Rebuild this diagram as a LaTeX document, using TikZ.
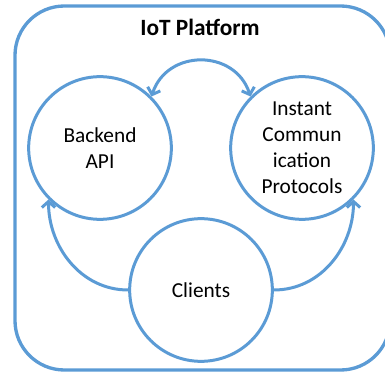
\documentclass[tikz,border=0pt]{standalone}
\usepackage{fontspec}
\setmainfont{Carlito}
\usepackage{tikz}
\usetikzlibrary{arrows.meta,calc,positioning}
\definecolor{iotblue}{HTML}{5B9BD5}
\tikzset{%
	bubble/.style   = {draw=iotblue, circle, line width=2.25pt, minimum size=107pt, inner sep=0pt, align=center, font=\fontsize{16}{19.5}\selectfont},
	frame/.style    = {draw=iotblue, line width=2.5pt, rounded corners=37pt},
	title/.style    = {font=\fontsize{17.5}{20}\selectfont\bfseries},
	link/.style     = {draw=iotblue, line width=2.25pt, -{Straight Barb[length=4.5pt,width=10pt]}},
	waypoint/.style = {coordinate},
}

\begin{document}
\begin{tikzpicture}[x=0.75pt,y=-0.75pt,node distance=151.5pt]
	\clip (0,0) rectangle (385,377);
	\draw [frame] (15,6) rectangle (390,370);
	\node [title] (iot) at (200,27) {IoT Platform};

	\node [bubble] (api) at (100,148) {Backend\\API};
	\node [bubble] (icp) [right of=api] {Instant\\Commun\\ication\\Protocols};
	\node [waypoint] (mid) at ($(api)!0.5!(icp)$) {};
	\node [bubble] (clients) [below of=mid,node distance=106.5pt] {Clients};

	\draw [link,{Straight Barb[length=4.5pt,width=10pt]}-{Straight Barb[length=4.5pt,width=10pt]}] (api.45) to[out=72,in=108,looseness=1.3] (icp.135);
	\draw [link] (clients.west) to[out=180,in=270] (api.225);
	\draw [link] (clients.east) to[out=0,in=270] (icp.315);
\end{tikzpicture}
\end{document}
